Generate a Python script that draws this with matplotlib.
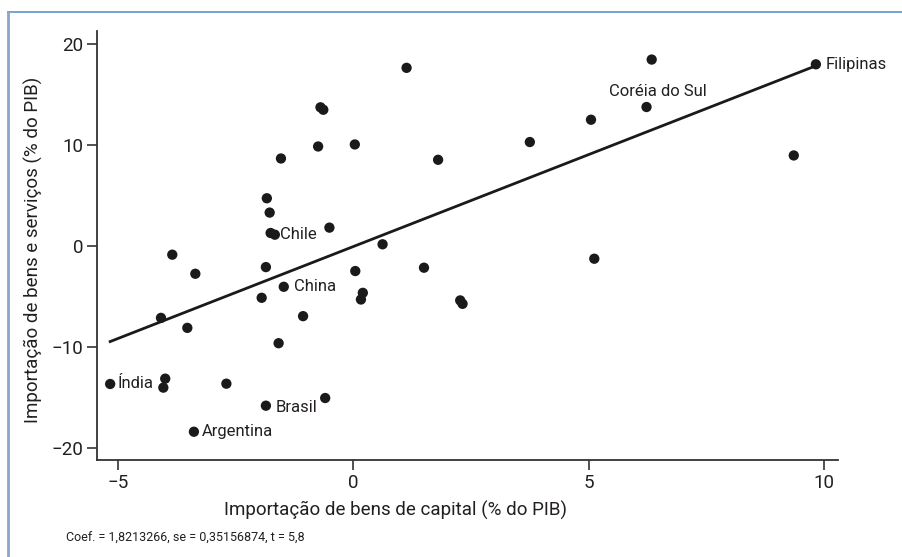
import numpy as np
import matplotlib
matplotlib.use("Agg")
import matplotlib.pyplot as plt
from matplotlib.lines import Line2D

plt.rcParams['font.family'] = ['Roboto', 'DejaVu Sans']

# capital goods imports (x) vs goods & services imports (y), % of GDP
x_vals = [-5.17, -4.00, -4.04, -2.70, -1.86, -3.39, -4.09, -3.53, -1.59, -1.95,
          -1.48, -1.07, -1.86, -1.76, -1.67, -1.78, -1.84, -0.51, 0.62, 0.04,
          1.50, 0.20, 0.16, 2.27, 2.32, -1.54, -0.75, 0.03, 1.80, -0.70,
          -0.64, 1.13, 6.34, 9.83, 6.23, 5.05, 3.75, 9.36, 5.12, -0.60,
          -3.85, -3.36]
y_vals = [-13.67, -13.14, -14.03, -13.64, -15.82, -18.40, -7.12, -8.11, -9.63, -5.13,
          -4.04, -6.95, -2.09, 1.29, 1.12, 3.31, 4.73, 1.82, 0.17, -2.48,
          -2.15, -4.64, -5.30, -5.39, -5.73, 8.67, 9.86, 10.06, 8.54, 13.74,
          13.50, 17.65, 18.47, 18.00, 13.77, 12.51, 10.30, 8.97, -1.26, -15.06,
          -0.86, -2.75]

# labelled countries: (name, index into the arrays, text offset in points)
labels = [("Índia", 0, (5, 0)),
          ("Brasil", 4, (7, -1)),
          ("Argentina", 5, (6, 0)),
          ("China", 10, (7, 0)),
          ("Chile", 14, (4, 0)),
          ("Filipinas", 33, (7, 0)),
          ("Coréia do Sul", 34, (8, 11))]

coef = 1.8213266
intercept = -0.05
note = "Coef. = 1,8213266, se = 0,35156874, t = 5,8"

fig = plt.figure(figsize=(9.02, 5.57), dpi=100)
ax = fig.add_axes([97 / 902, 1 - 460 / 557, (838 - 97) / 902, (460 - 31) / 557])

ax.scatter(x_vals, y_vals, s=55, color="#1a1a1a", edgecolors="none", zorder=3)

xs = np.array([min(x_vals), max(x_vals)])
ax.plot(xs, coef * xs + intercept, color="#1a1a1a", lw=2.0, zorder=2)

for name, i, off in labels:
    ha = "left"
    if name == "Coréia do Sul":
        ha = "center"
    ax.annotate(name, (x_vals[i], y_vals[i]), xytext=off, textcoords="offset points",
                ha=ha, va="center", fontsize=12, color="#231f20")

ax.set_xlim(-5.45, 10.3)
ax.set_ylim(-21.2, 21.3)
ax.set_xticks([-5, 0, 5, 10])
ax.set_yticks([-20, -10, 0, 10, 20])
ax.spines["top"].set_visible(False)
ax.spines["right"].set_visible(False)
for s in ("left", "bottom"):
    ax.spines[s].set_color("#333333")
    ax.spines[s].set_linewidth(1.3)
ax.tick_params(direction="out", length=7, width=1.2, color="#333333",
               labelsize=13.5, labelcolor="#231f20", pad=3)

ax.set_xlabel("Importação de bens de capital (% do PIB)", fontsize=13.5, color="#231f20")
ax.set_ylabel("Importação de bens e serviços (% do PIB)", fontsize=13.5, color="#231f20")
ax.xaxis.set_label_coords(0.403, -0.096)
ax.yaxis.set_label_coords(-0.073, 0.49)

fig.text(66 / 902, 1 - 538 / 557, note, fontsize=9, color="#231f20", va="center")

# frame lines at top and left
fig.add_artist(Line2D([8 / 902, 1], [1 - 12 / 557, 1 - 12 / 557], color="#6b9bd0", lw=1.3))
fig.add_artist(Line2D([8 / 902, 8 / 902], [0, 1 - 12 / 557], color="#8aa6c8", lw=2.0))

fig.savefig("out.png", dpi=100)
